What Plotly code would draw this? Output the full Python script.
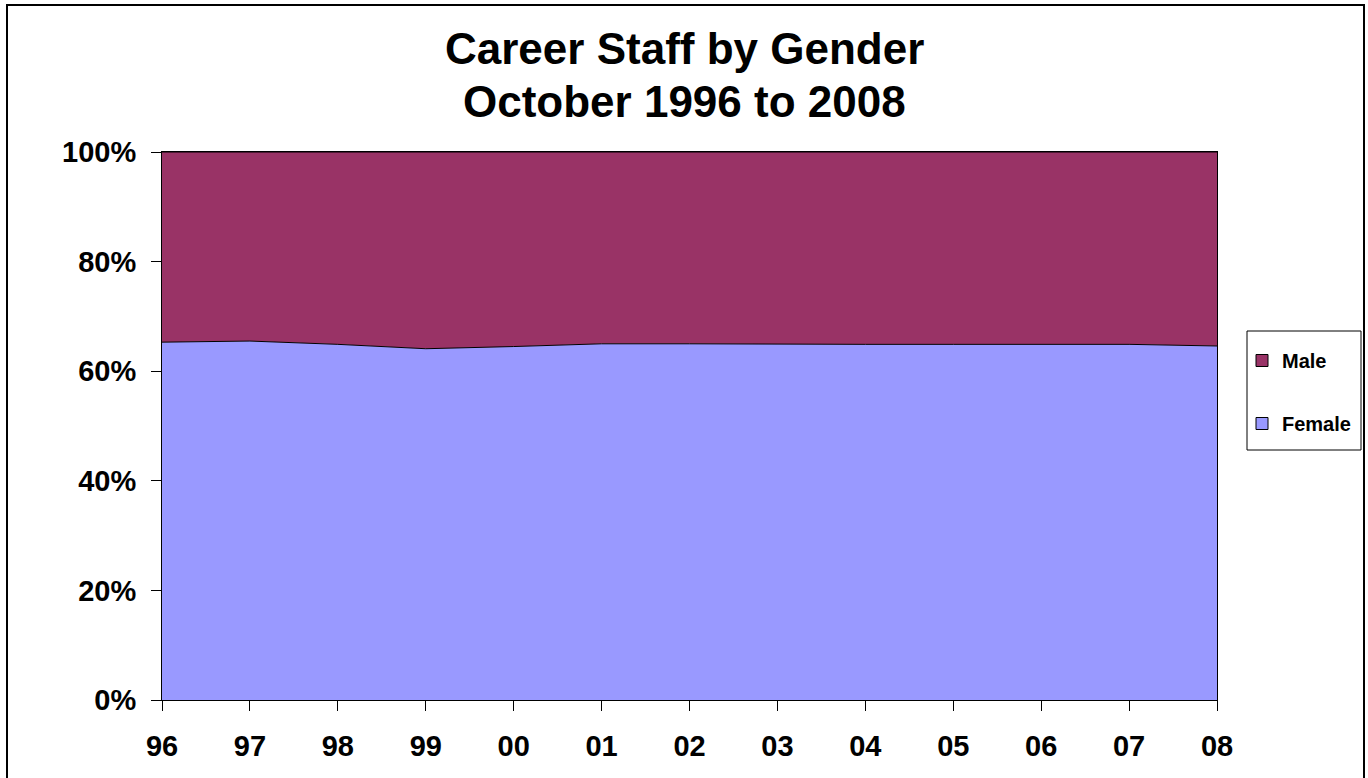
import plotly.graph_objects as go

years = ["96", "97", "98", "99", "00", "01", "02", "03", "04", "05", "06", "07", "08"]
female_pct = [65.3, 65.5, 64.9, 64.1, 64.5, 65.0, 65.0, 64.9, 64.9, 64.9, 64.9, 64.9, 64.6]
male_pct = [100 - v for v in female_pct]
y_ticks = [0, 20, 40, 60, 80, 100]
title_lines = ["Career Staff by Gender", "October 1996 to 2008"]

FEMALE_C = "#9999FF"
MALE_C = "#993366"

L, R, T, B = 162, 151, 152, 78
W, H = 1368, 778
pw, ph = W - L - R, H - T - B


def px_x(p):
    return (p - L) / pw


def px_y(p):
    return (H - B - p) / ph


xs = list(range(len(years)))

fig = go.Figure()
fig.add_trace(go.Scatter(
    x=xs, y=female_pct, name="Female", stackgroup="one", mode="lines",
    line=dict(color="black", width=1), fillcolor=FEMALE_C, showlegend=False,
    hoverinfo="skip",
))
fig.add_trace(go.Scatter(
    x=xs, y=male_pct, name="Male", stackgroup="one", mode="lines",
    line=dict(color="black", width=1), fillcolor=MALE_C, showlegend=False,
    hoverinfo="skip",
))
# legend swatches
for name, col, rank, grp in [("Male", MALE_C, 1, "m"), ("Female", FEMALE_C, 2, "f")]:
    fig.add_trace(go.Scatter(
        x=[None], y=[None], name=name, mode="markers",
        marker=dict(symbol="square", size=12, color=col, line=dict(color="black", width=1)),
        legendrank=rank, legendgroup=grp, showlegend=True,
    ))

annotations = [
    dict(text=f"<b>{title_lines[0]}</b>", xref="paper", yref="paper",
         x=px_x(684), y=px_y(48), xanchor="center", yanchor="middle",
         showarrow=False, font=dict(size=44, color="black")),
    dict(text=f"<b>{title_lines[1]}</b>", xref="paper", yref="paper",
         x=px_x(684), y=px_y(101), xanchor="center", yanchor="middle",
         showarrow=False, font=dict(size=44, color="black")),
]

fig.update_layout(
    width=W, height=H,
    margin=dict(l=L, r=R, t=T, b=B, autoexpand=False),
    paper_bgcolor="white", plot_bgcolor="white",
    font=dict(family="Liberation Sans, Arial, sans-serif", color="black"),
    xaxis=dict(
        range=[0, len(years) - 1], tickmode="array", tickvals=xs, ticktext=years,
        ticks="outside", ticklen=10, tickcolor="black", tickwidth=1,
        showline=True, linecolor="black", linewidth=1, mirror=True,
        showgrid=False, zeroline=False,
        tickfont=dict(size=29, color="black", weight="bold"),
        ticklabelstandoff=10,
    ),
    yaxis=dict(
        range=[0, 100], tickmode="array", tickvals=y_ticks,
        ticktext=[f"{v}%" for v in y_ticks],
        ticks="outside", ticklen=10, tickcolor="black", tickwidth=1,
        showline=True, linecolor="black", linewidth=1, mirror=True,
        showgrid=False, zeroline=False,
        tickfont=dict(size=29, color="black", weight="bold"),
        ticklabelstandoff=9,
    ),
    legend=dict(
        x=px_x(1242), xanchor="left",
        y=px_y(392), yanchor="middle",
        borderwidth=0, bgcolor="rgba(0,0,0,0)",
        font=dict(size=20, color="black", weight="bold"),
        traceorder="grouped", tracegroupgap=34,
        itemwidth=30,
    ),
    annotations=annotations,
    shapes=[
        dict(type="rect", xref="paper", yref="paper",
             x0=px_x(7), x1=px_x(1364), y0=px_y(800), y1=px_y(5),
             line=dict(color="black", width=2), fillcolor="rgba(0,0,0,0)",
             layer="below"),
        dict(type="rect", xref="paper", yref="paper",
             x0=px_x(1247), x1=px_x(1361), y0=px_y(450), y1=px_y(331),
             line=dict(color="black", width=1), fillcolor="white",
             layer="below"),
    ],
)

fig.write_html("out.html", config={"displayModeBar": False},
               post_script="document.body.style.margin='0';")
